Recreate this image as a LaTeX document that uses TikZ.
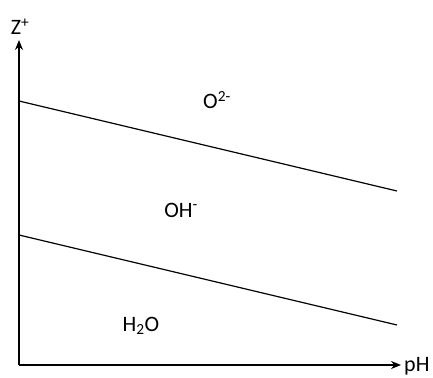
\documentclass[tikz,border=0pt]{standalone}
\usepackage{fontspec}
\setmainfont{Carlito}
\usetikzlibrary{arrows.meta}

\begin{document}
\begin{tikzpicture}[
 x=1pt,y=-1pt,
 axis/.style={-{Stealth[length=10pt,width=8pt]},line width=1.3pt},
 bound/.style={line width=1.2pt},
 lbl/.style={font=\fontsize{22}{24}\selectfont,inner sep=0pt}
]
\useasboundingbox (0,0) rectangle (433,377);
% axes
\coordinate (origin) at (19,365);
\coordinate (ytop) at (19,40);
\coordinate (xend) at (401,365);
\draw[axis] (origin)--(ytop);
\draw[axis] (origin)--(xend);
\node[lbl,anchor=south] (zlab) at (20,35) {Z\textsuperscript{+}};
\node[lbl,anchor=base west] (phlab) at (404,371) {pH};
% boundaries
\coordinate (a1) at (19,101); \coordinate (a2) at (397,191);
\coordinate (b1) at (19,235); \coordinate (b2) at (397,325);
\draw[bound] (a1)--(a2);
\draw[bound] (b1)--(b2);
% regions
\node[lbl] (oxide) at (217,100) {O\textsuperscript{2-}};
\node[lbl] (hydrox) at (181,210) {OH\textsuperscript{-}};
\node[lbl] (water) at (141,326) {H\textsubscript{2}O};
\end{tikzpicture}
\end{document}
